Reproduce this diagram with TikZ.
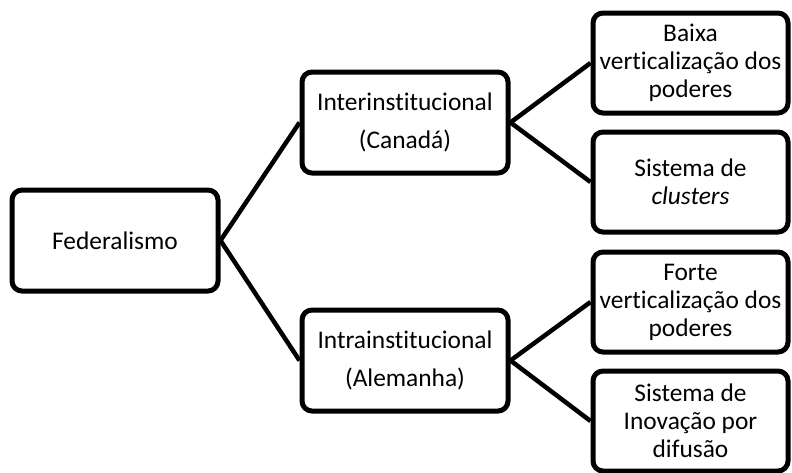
\documentclass[tikz,border=0pt]{standalone}
\usepackage{fontspec}
\setmainfont[Ligatures=NoCommon]{Carlito}
\begin{document}
\begin{tikzpicture}[x=1pt,y=-1pt,
  box/.style={draw=black, line width=5pt, rounded corners=10pt, fill=white,
    align=center, inner sep=0pt, font=\fontsize{25.4}{28}\selectfont},
  bigbox/.style={box, minimum width=206pt, minimum height=101pt},
  midbox/.style={bigbox, font=\fontsize{25.4}{38.5}\selectfont},
  leafbox/.style={box, minimum width=195pt, minimum height=100pt},
  conn/.style={draw=black, line width=4.5pt}]
\useasboundingbox (0,0) rectangle (792,472);
\node[bigbox] (fed) at (115,240.5) {Federalismo};
\node[midbox] (inter) at (405,122.5) {Interinstitucional\\(Canadá)};
\node[midbox] (intra) at (405,360.5) {Intrainstitucional\\(Alemanha)};
\node[leafbox] (l1) at (690.5,63) {Baixa\\verticalização dos\\poderes};
\node[leafbox] (l2) at (690.5,182) {Sistema de\\\textit{clusters}};
\node[leafbox] (l3) at (690.5,302) {Forte\\verticalização dos\\poderes};
\node[leafbox] (l4) at (690.5,421) {Sistema de\\Inovação por\\difusão};
\draw[conn] (fed.east) -- (inter.west);
\draw[conn] (fed.east) -- (intra.west);
\draw[conn] (inter.east) -- (l1.west);
\draw[conn] (inter.east) -- (l2.west);
\draw[conn] (intra.east) -- (l3.west);
\draw[conn] (intra.east) -- (l4.west);
\end{tikzpicture}
\end{document}
